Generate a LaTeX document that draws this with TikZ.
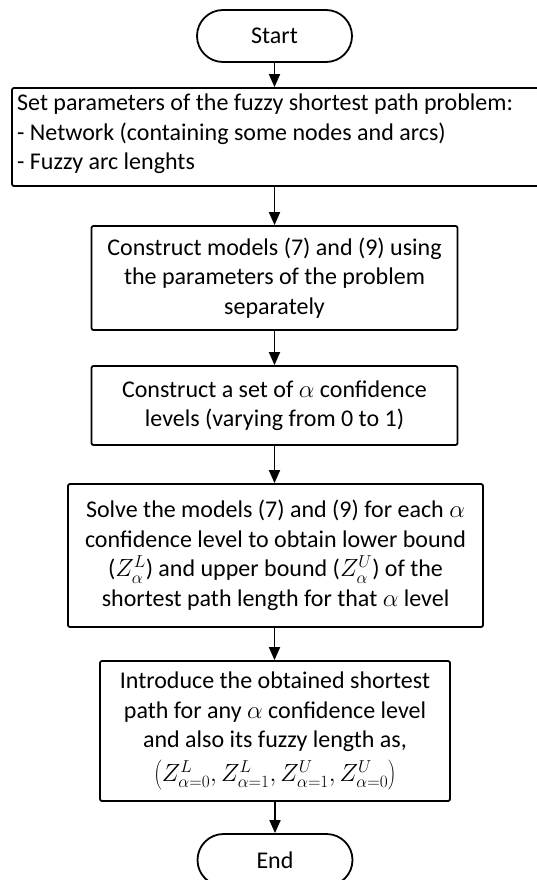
\documentclass[tikz,border=0pt]{standalone}
\usepackage{fontspec}
\setmainfont{Carlito}
\usetikzlibrary{arrows.meta}
\begin{document}
\begin{tikzpicture}[x=1pt,y=-1pt,
  txt/.style={font=\fontsize{24}{29.5}\selectfont},
  box/.style={draw,line width=1.8pt,rounded corners=2pt,inner sep=0pt,align=center,txt},
  term/.style={draw,line width=1.8pt,rounded corners=26pt,inner sep=0pt,minimum width=155pt,minimum height=52pt,txt},
  flow/.style={line width=1.8pt,-{Triangle[length=13pt,width=11pt]}}]
\useasboundingbox (0,0) rectangle (537,880);
\clip (0,0) rectangle (537,880);
\node[term] (start) at (274.5,36) {Start};
\node[box,minimum width=536pt,minimum height=98pt] (b1) at (280,137) {};
\node[txt,anchor=west,align=left,inner sep=0pt] (t1) at (17,134)
  {Set parameters of the fuzzy shortest path problem:\\
   - Network (containing some nodes and arcs)\\
   - Fuzzy arc lenghts};
\node[box,minimum width=366pt,minimum height=104pt] (b2) at (274.5,278)
  {Construct models (7) and (9) using\\the parameters of the problem\\separately};
\node[box,minimum width=366pt,minimum height=79pt] (b3) at (274.5,405.5)
  {Construct a set of $\alpha$ confidence\\levels (varying from 0 to 1)};
\node[box,minimum width=415pt,minimum height=143pt] (b4) at (275.5,555.5)
  {Solve the models (7) and (9) for each $\alpha$\\
   confidence level to obtain lower bound\\
   ($Z^L_\alpha$) and upper bound ($Z^U_\alpha$) of the\\
   shortest path length for that $\alpha$ level};
\node[box,minimum width=350pt,minimum height=140pt] (b5) at (275,731)
  {Introduce the obtained shortest\\
   path for any $\alpha$ confidence level\\
   and also its fuzzy length as,\\[4pt]
   $\left(Z^L_{\alpha=0},Z^L_{\alpha=1},Z^U_{\alpha=1},Z^U_{\alpha=0}\right)$};
\node[term] (end) at (275,860) {End};
\coordinate (b1top) at (start.south |- b1.north);
\coordinate (b1bot) at (start.south |- b1.south);
\draw[flow] (start.south) -- (b1top);
\draw[flow] (b1bot) -- (b2.north -| b1bot);
\draw[flow] (b2.south) -- (b3.north);
\draw[flow] (b3.south) -- (b4.north -| b3.south);
\draw[flow] (b4.south -| b3.south) -- (b5.north -| b3.south);
\draw[flow] (b5.south) -- (end.north);
\end{tikzpicture}
\end{document}
